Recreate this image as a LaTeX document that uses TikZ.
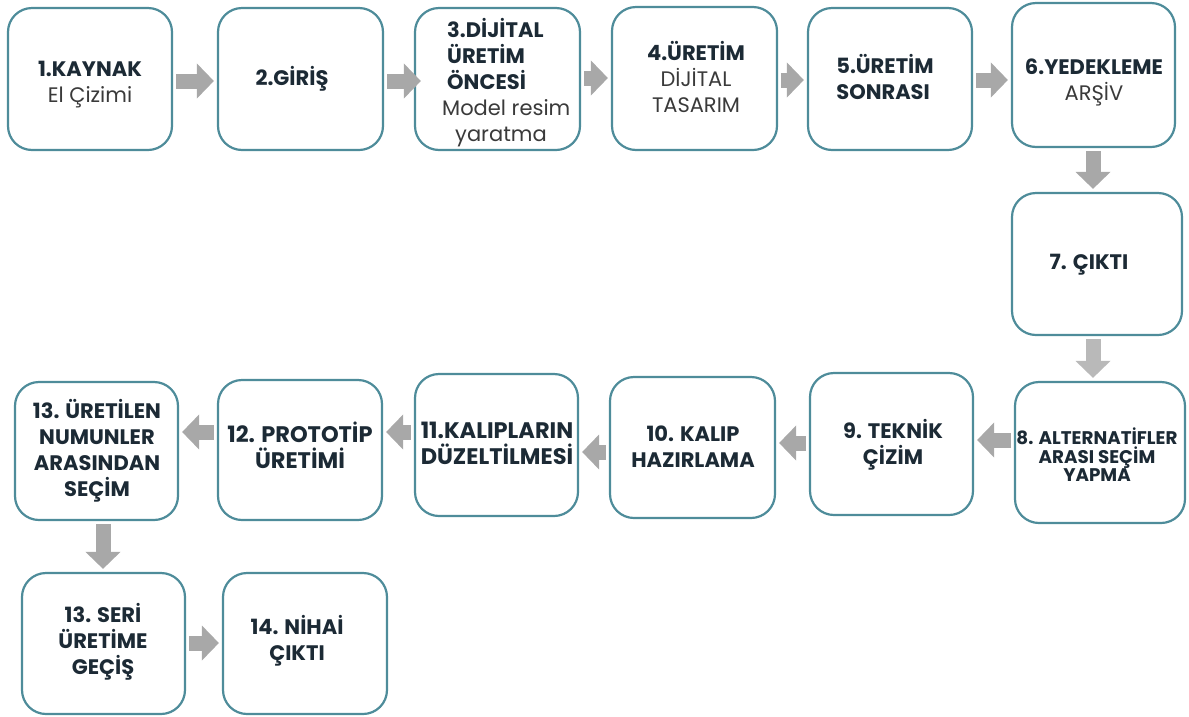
\documentclass[tikz,border=0pt]{standalone}
\usepackage{fontspec}
\setmainfont{Poppins}
\usetikzlibrary{arrows.meta}
\definecolor{boxline}{HTML}{4E8C9A}
\definecolor{ink}{HTML}{1C2A35}
\definecolor{soft}{HTML}{3A3A3A}
\definecolor{flowgray}{HTML}{A8A8A8}
\tikzset{
  box/.style={draw=boxline, line width=2.2pt, fill=white, rounded corners=24pt, inner sep=0pt},
  txt/.style={align=center, inner sep=0pt, text=ink, font=\fontsize{21}{26}\selectfont\bfseries},
  wide/.style={font=\fontsize{22.5}{26}\selectfont\bfseries},
  small/.style={font=\fontsize{18.3}{18.5}\selectfont\bfseries},
  flow/.style={draw=flowgray, line width=15pt, shorten <=3pt, shorten >=3pt,
    -{Triangle[width=34pt,length=17pt]}},
}
\newcommand{\rg}[1]{{\mdseries\color{soft}#1}}
\begin{document}
\begin{tikzpicture}[x=1pt,y=-1pt]
\useasboundingbox (0,0) rectangle (1189,716);

% process boxes
\node[box, minimum width=164pt, minimum height=142pt] (n1) at (90,79) {};
\node[box, minimum width=165pt, minimum height=142pt] (n2) at (300.5,79) {};
\node[box, minimum width=165pt, minimum height=142pt] (n3) at (497.5,79) {};
\node[box, minimum width=165pt, minimum height=143pt] (n4) at (694.5,78.5) {};
\node[box, minimum width=164pt, minimum height=142pt] (n5) at (890,79) {};
\node[box, minimum width=163pt, minimum height=144pt] (n6) at (1093.5,75) {};
\node[box, minimum width=170pt, minimum height=142pt] (n7) at (1097,264) {};
\node[box, minimum width=170pt, minimum height=141pt] (n8) at (1100,452.5) {};
\node[box, minimum width=163pt, minimum height=142pt] (n9) at (891.5,444) {};
\node[box, minimum width=165pt, minimum height=141pt] (n10) at (692.5,447.5) {};
\node[box, minimum width=163pt, minimum height=142pt] (n11) at (496.5,445) {};
\node[box, minimum width=164pt, minimum height=140pt] (n12) at (300,450) {};
\node[box, minimum width=163pt, minimum height=138pt] (n13) at (96.5,451) {};
\node[box, minimum width=163pt, minimum height=141pt] (n13b) at (103.5,643.5) {};
\node[box, minimum width=164pt, minimum height=141pt] (n14) at (305,643.5) {};

% box texts
\node[txt] (t1) at (90,85) {1.KAYNAK\\\rg{El Çizimi}};
\node[txt] (t2) at (292,79) {2.GİRİŞ};
\node[txt, align=left, anchor=west] (t3) at (442,83)
  {\hspace*{5pt}3.DİJİTAL\\\hspace*{5pt}ÜRETİM\\\hspace*{5pt}ÖNCESİ\\\rg{Model resim}\\\hspace*{13pt}\rg{yaratma}};
\node[txt] (t4) at (696,77) {4.ÜRETİM\\\rg{DİJİTAL}\\\rg{TASARIM}};
\node[txt, align=left] (t5) at (885,77) {5.ÜRETİM\\SONRASI};
\node[txt] (t6) at (1094,82) {6.YEDEKLEME\\\rg{ARŞİV}};
\node[txt] (t7) at (1089,265) {7. ÇIKTI};
\node[txt, small] (t8) at (1097,455) {8. ALTERNATİFLER\\ARASI SEÇİM\\YAPMA};
\node[txt] (t9) at (893,445) {9. TEKNİK\\ÇİZİM};
\node[txt] (t10) at (693,447) {10. KALIP\\HAZIRLAMA};
\node[txt, wide] (t11) at (497,443) {11.KALIPLARIN\\DÜZELTİLMESİ};
\node[txt, wide] (t12) at (300,445) {12. PROTOTİP\\ÜRETİMİ};
\node[txt] (t13) at (97,451) {13. ÜRETİLEN\\NUMUNLER\\ARASINDAN\\SEÇİM};
\node[txt] (t13c) at (103,642) {13. SERİ\\ÜRETİME\\GEÇİŞ};
\node[txt] (t14) at (297,641) {14. NİHAİ\\ÇIKTI};

% flow arrows
\draw[flow] (n1.east |- 0,81) -- (n2.west |- 0,81);
\draw[flow] (n2.east |- 0,81) -- ([xshift=10pt]n3.west |- 0,81);
\draw[flow] (n3.east |- 0,78) -- (n4.west |- 0,78);
\draw[flow] (n4.east |- 0,80) -- (n5.west |- 0,80);
\draw[flow] (n5.east |- 0,80) -- (n6.west |- 0,80);
\draw[flow] (n6.south -| 1093,0) -- (n7.north -| 1093,0);
\draw[flow, draw=flowgray!80] (n7.south -| 1093,0) -- (n8.north -| 1093,0);
\draw[flow] (n8.west |- 0,440) -- (n9.east |- 0,440);
\draw[flow] (n9.west |- 0,443) -- (n10.east |- 0,443);
\draw[flow] (n10.west |- 0,452) -- (n11.east |- 0,452);
\draw[flow] (n11.west |- 0,432) -- (n12.east |- 0,432);
\draw[flow] (n12.west |- 0,432) -- (n13.east |- 0,432);
\draw[flow] (n13.south -| 103,0) -- (n13b.north -| 103,0);
\draw[flow] (n13b.east |- 0,643) -- (n14.west |- 0,643);
\end{tikzpicture}
\end{document}
